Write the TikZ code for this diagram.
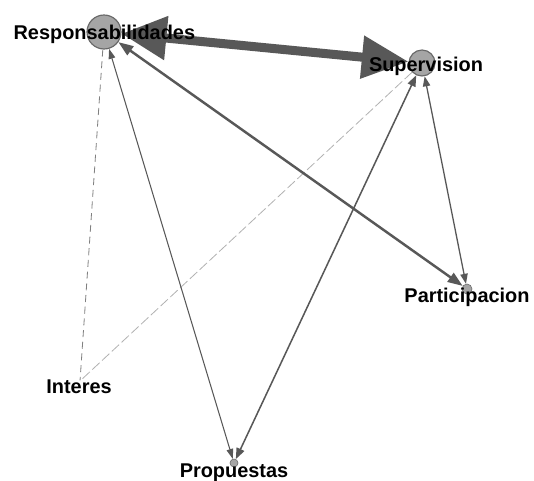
\documentclass[tikz,border=0pt]{standalone}
\usepackage{fontspec}
\setmainfont{Liberation Sans}
\usetikzlibrary{arrows.meta}

\definecolor{edgegray}{RGB}{88,88,88}
\definecolor{nodegray}{RGB}{165,165,165}
\definecolor{rimgray}{RGB}{105,105,105}

\begin{document}
\begin{tikzpicture}[every node/.style={circle, draw=rimgray, fill=nodegray, line width=1pt, inner sep=0pt},
  lbl/.style={rectangle, draw=none, fill=none, anchor=base, inner sep=0pt, font=\fontsize{17}{20}\selectfont\bfseries},
  link/.style={draw=edgegray, line width=#1},
  tie/.style={draw=black!50, line width=0.7pt, dash pattern=on 6pt off 4pt}]
  \useasboundingbox (0,0) rectangle (16.02,14.4);
  \node[minimum size=1.02cm] (resp) at (3.12, 13.44) {};
  \node[minimum size=0.78cm] (sup) at (12.66, 12.51) {};
  \node[minimum size=0.30cm, line width=0.5pt] (part) at (14.01, 5.73) {};
  \node[minimum size=0.24cm, line width=0.5pt] (prop) at (7.02, 0.51) {};
  \node[draw=none, fill=none, minimum size=0pt] (int) at (2.40, 2.97) {};
  \draw[tie] (resp) -- (int);
  \draw[tie, draw=black!30, dash pattern=on 0.3cm off 0.1cm] (sup) -- (int);
  \draw[link=0.9pt, {Triangle[length=0.3cm,width=0.2cm]}-{Triangle[length=0.3cm,width=0.2cm]}] (resp) -- (prop);
  \draw[link=1.3pt, {Triangle[length=0.33cm,width=0.25cm]}-{Triangle[length=0.33cm,width=0.25cm]}] (sup) -- (prop);
  \draw[link=1.1pt, {Triangle[length=0.3cm,width=0.22cm]}-{Triangle[length=0.3cm,width=0.22cm]}] (sup) -- (part);
  \draw[link=2.1pt, {Triangle[length=0.45cm,width=0.32cm]}-{Triangle[length=0.45cm,width=0.32cm]}] (resp) -- (part);
  \draw[link=7.7pt, {Triangle[length=1.35cm,width=1.26cm]}-{Triangle[length=1.4cm,width=1.23cm]}] (resp) -- (sup);
  \node[lbl] (resp-t) at (3.13, 13.2) {Responsabilidades};
  \node[lbl] (sup-t) at (12.78, 12.24) {Supervision};
  \node[lbl] (part-t) at (14.01, 5.31) {Participacion};
  \node[lbl] (int-t) at (2.37, 2.61) {Interes};
  \node[lbl] (prop-t) at (7.02, 0.09) {Propuestas};
\end{tikzpicture}
\end{document}
